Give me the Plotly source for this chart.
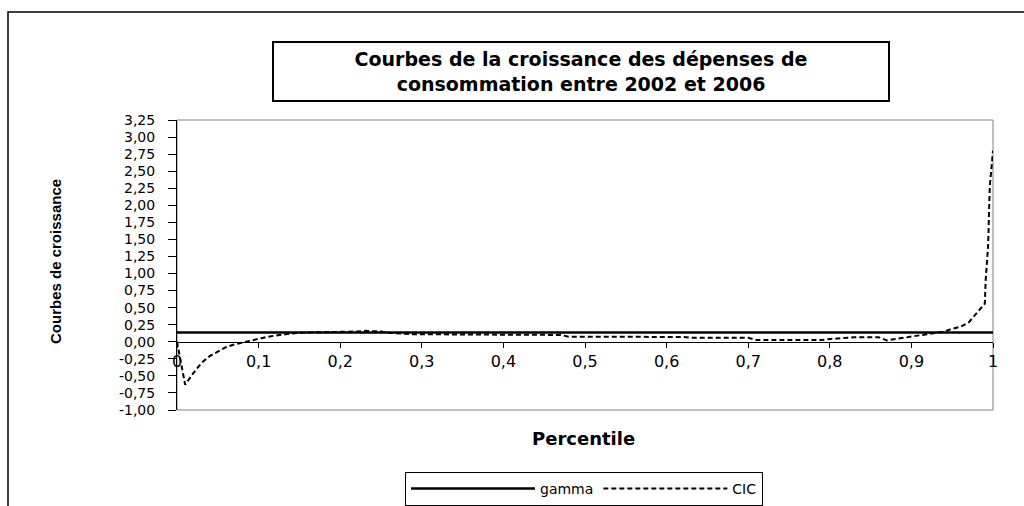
import plotly.graph_objects as go

# ---------------- data ----------------
percentile = [
    0.00, 0.01, 0.02, 0.03, 0.04, 0.05, 0.06, 0.07, 0.08, 0.09,
    0.10, 0.11, 0.12, 0.13, 0.14, 0.15, 0.16, 0.17, 0.18, 0.19,
    0.20, 0.21, 0.22, 0.23, 0.24, 0.25, 0.26, 0.27, 0.28, 0.29,
    0.30, 0.31, 0.32, 0.33, 0.34, 0.35, 0.36, 0.37, 0.38, 0.39,
    0.40, 0.41, 0.42, 0.43, 0.44, 0.45, 0.46, 0.47, 0.48, 0.49,
    0.50, 0.51, 0.52, 0.53, 0.54, 0.55, 0.56, 0.57, 0.58, 0.59,
    0.60, 0.61, 0.62, 0.63, 0.64, 0.65, 0.66, 0.67, 0.68, 0.69,
    0.70, 0.71, 0.72, 0.73, 0.74, 0.75, 0.76, 0.77, 0.78, 0.79,
    0.80, 0.81, 0.82, 0.83, 0.84, 0.85, 0.86, 0.87, 0.88, 0.89,
    0.90, 0.91, 0.92, 0.93, 0.94, 0.95, 0.96, 0.97, 0.98, 0.99,
    0.991, 0.994, 0.996, 0.998, 1.00,
]
cic = [
    0.00, -0.63, -0.46, -0.31, -0.21, -0.14, -0.08, -0.04, -0.01, 0.02,
    0.05, 0.07, 0.09, 0.11, 0.12, 0.13, 0.14, 0.14, 0.14, 0.14,
    0.14, 0.14, 0.15, 0.16, 0.16, 0.15, 0.13, 0.12, 0.11, 0.11,
    0.11, 0.11, 0.11, 0.11, 0.11, 0.11, 0.11, 0.11, 0.11, 0.11,
    0.11, 0.11, 0.11, 0.11, 0.11, 0.11, 0.11, 0.10, 0.075, 0.075,
    0.075, 0.075, 0.075, 0.075, 0.075, 0.075, 0.075, 0.075, 0.075, 0.075,
    0.075, 0.075, 0.07, 0.06, 0.06, 0.06, 0.06, 0.06, 0.06, 0.06,
    0.06, 0.025, 0.025, 0.025, 0.025, 0.025, 0.025, 0.025, 0.025, 0.025,
    0.04, 0.05, 0.06, 0.065, 0.065, 0.065, 0.065, 0.02, 0.04, 0.06,
    0.075, 0.09, 0.11, 0.13, 0.15, 0.19, 0.22, 0.28, 0.42, 0.56,
    0.90, 1.40, 2.27, 2.52, 2.80,
]
gamma_x = [0.0, 1.0]
gamma = [0.135, 0.135]

x_tick_vals = [0.0, 0.1, 0.2, 0.3, 0.4, 0.5, 0.6, 0.7, 0.8, 0.9, 1.0]
x_tick_text = ["0", "0,1", "0,2", "0,3", "0,4", "0,5", "0,6", "0,7", "0,8", "0,9", "1"]
y_tick_vals = [-1.0, -0.75, -0.5, -0.25, 0.0, 0.25, 0.5, 0.75, 1.0, 1.25,
               1.5, 1.75, 2.0, 2.25, 2.5, 2.75, 3.0, 3.25]
y_tick_text = ["-1,00", "-0,75", "-0,50", "-0,25", "0,00", "0,25", "0,50", "0,75",
               "1,00", "1,25", "1,50", "1,75", "2,00", "2,25", "2,50", "2,75",
               "3,00", "3,25"]

title_text = "Courbes de la croissance des dépenses de<br>consommation entre 2002 et 2006"
x_title = "Percentile"
y_title = "Courbes de croissance"

# ---------------- layout geometry ----------------
W, H = 1024, 506
L, R, T, B = 177, 31, 120, 96
PW, PH = W - L - R, H - T - B
Y_MIN, Y_MAX = -1.0, 3.25


def fx(px):
    return (px - L) / PW


def fy(py):
    return (H - B - py) / PH


FONT = "DejaVu Sans"

fig = go.Figure()
fig.add_trace(go.Scatter(
    x=gamma_x, y=gamma, mode="lines", name="gamma",
    line=dict(color="black", width=2.5),
))
fig.add_trace(go.Scatter(
    x=percentile, y=cic, mode="lines", name="CIC",
    line=dict(color="black", width=2, dash="5px,3px"),
))

fig.update_layout(
    width=W, height=H,
    margin=dict(l=L, r=R, t=T, b=B, pad=0, autoexpand=False),
    paper_bgcolor="white", plot_bgcolor="white",
    font=dict(family=FONT, color="black"),
    showlegend=True,
    legend=dict(
        orientation="h", x=fx(405), y=fy(472), xanchor="left", yanchor="top",
        bordercolor="black", borderwidth=1, bgcolor="white",
        font=dict(family=FONT, size=14, color="black"),
        itemwidth=124,
    ),
    xaxis=dict(
        range=[0, 1], anchor="free",
        position=(0 - Y_MIN) / (Y_MAX - Y_MIN),
        showline=True, linecolor="black", linewidth=1,
        ticks="outside", ticklen=5, tickcolor="black",
        tickvals=x_tick_vals, ticktext=x_tick_text,
        tickfont=dict(family=FONT, size=16, color="black"),
        showgrid=False, zeroline=False,
    ),
    yaxis=dict(
        range=[Y_MIN, Y_MAX],
        showline=True, linecolor="black", linewidth=1,
        ticks="outside", ticklen=8, tickcolor="black",
        tickvals=y_tick_vals, ticktext=y_tick_text,
        tickfont=dict(family=FONT, size=14, color="black"),
        ticklabelstandoff=10,
        showgrid=False, zeroline=False,
    ),
    shapes=[
        # plot-area border
        dict(type="rect", xref="paper", yref="paper", x0=0, x1=1, y0=0, y1=1,
             line=dict(color="#808080", width=1), layer="below"),
        # outer chart frame (cropped)
        dict(type="rect", xref="paper", yref="paper",
             x0=fx(8), x1=fx(1060), y0=fy(540), y1=fy(12),
             line=dict(color="black", width=1.5), layer="below"),
    ],
    annotations=[
        dict(text=title_text, xref="paper", yref="paper",
             x=fx(581), y=fy(72), xanchor="center", yanchor="middle",
             showarrow=False, align="center",
             width=614, height=57, borderpad=0,
             bordercolor="black", borderwidth=2, bgcolor="white",
             font=dict(family=FONT, size=19, color="black", weight="bold")),
        dict(text=x_title, xref="paper", yref="paper",
             x=fx(583), y=fy(438), xanchor="center", yanchor="middle",
             showarrow=False,
             font=dict(family=FONT, size=18, color="black", weight="bold")),
        dict(text=y_title, xref="paper", yref="paper",
             x=fx(55), y=fy(262), xanchor="center", yanchor="middle",
             showarrow=False, textangle=-90,
             font=dict(family="Liberation Sans", size=15, color="black", weight="bold")),
    ],
)

fig.write_html("out.html", config={"displayModeBar": False},
               post_script="document.body.style.margin='0px';")
